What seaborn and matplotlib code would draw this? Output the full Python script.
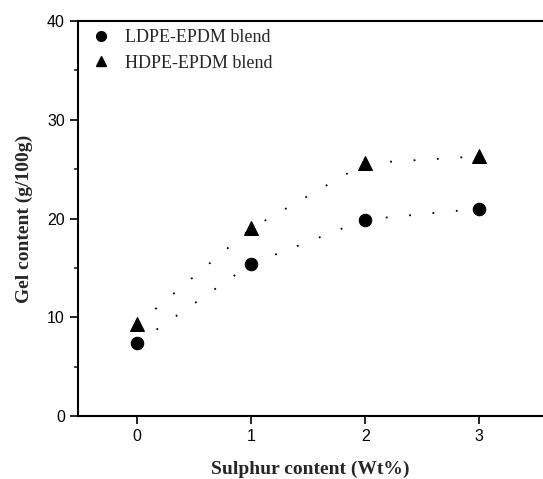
import pandas as pd
import seaborn as sns
import numpy as np
import matplotlib.pyplot as plt
from matplotlib.lines import Line2D
from matplotlib.ticker import MultipleLocator

# data
sulphur = [0, 1, 2, 3]
ldpe = [7.4, 15.4, 19.9, 21.0]
hdpe = [9.3, 19.0, 25.6, 26.3]
series_names = ['LDPE-EPDM blend', 'HDPE-EPDM blend']

df = pd.DataFrame({
    'Sulphur': sulphur * 2,
    'Gel': ldpe + hdpe,
    'Blend': [series_names[0]] * 4 + [series_names[1]] * 4,
})

sns.set_style('ticks')
plt.rcParams['font.family'] = ['Liberation Sans', 'DejaVu Sans']

fig = plt.figure(figsize=(5.43, 4.79), dpi=100)
ax = fig.add_axes([0.1436, 0.1315, 0.8564, 0.8245])

markers = {series_names[0]: 'o', series_names[1]: '^'}
msize = {series_names[0]: 9, series_names[1]: 10}
for name in series_names:
    sub = df[df['Blend'] == name]
    sns.lineplot(data=sub, x='Sulphur', y='Gel', ax=ax, color='black',
                 linestyle=(0, (1, 12)), linewidth=1.3, marker=markers[name],
                 markersize=msize[name], markeredgecolor='black', legend=False)

ax.set_xlim(-0.52, 3.56)
ax.set_ylim(0, 40)
ax.set_xticks(sulphur)
ax.yaxis.set_major_locator(MultipleLocator(10))
ax.yaxis.set_minor_locator(MultipleLocator(5))
ax.tick_params(axis='both', which='major', direction='out', length=6, width=1.2,
               labelsize=11.5, colors='black')
ax.tick_params(axis='y', which='minor', direction='out', length=3, width=1.2)

for s in ['left', 'bottom', 'top']:
    ax.spines[s].set_linewidth(1.5)
    ax.spines[s].set_color('black')
ax.spines['right'].set_visible(False)

serif = ['Liberation Serif', 'DejaVu Serif']
ax.set_xlabel('Sulphur content (Wt%)', fontsize=14, fontweight='bold', family=serif, labelpad=12)
ax.set_ylabel('Gel content (g/100g)', fontsize=14, fontweight='bold', family=serif, labelpad=10)

handles = [Line2D([], [], color='black', marker=markers[n], linestyle='none', markersize=7)
           for n in series_names]
leg = ax.legend(handles, series_names, loc='upper left', frameon=False,
                prop={'family': serif, 'size': 13}, handletextpad=0.6,
                labelspacing=0.45, handlelength=1.5, bbox_to_anchor=(-0.015, 1.02))

fig.savefig('out.png', dpi=100)
